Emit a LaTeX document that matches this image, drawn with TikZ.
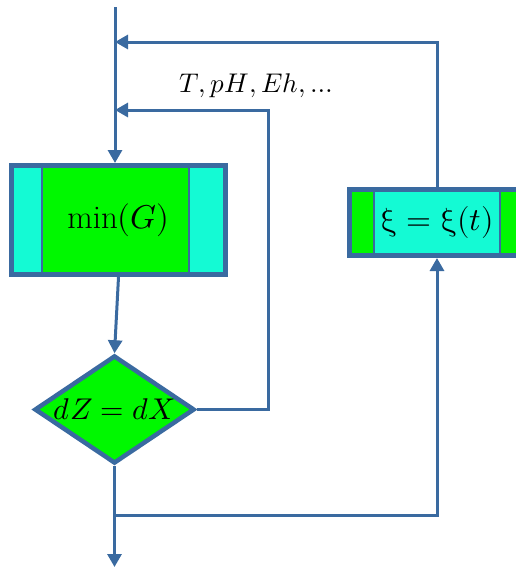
\documentclass[tikz,border=0pt]{standalone}
\usepackage{unicode-math}
\setmathfont{Latin Modern Math}
\usetikzlibrary{arrows.meta,shapes.geometric}
\definecolor{lblue}{RGB}{58,106,160}
\definecolor{bgreen}{RGB}{0,248,0}
\definecolor{aqua}{RGB}{20,250,212}
\tikzset{
  conn/.style={draw=lblue, line width=3pt},
  arr/.style={conn, -{Triangle[length=13pt,width=14pt]}},
  sidebox/.style n args={4}{draw=lblue, line width=5pt, fill=#2, inner sep=0pt,
    path picture={
      \fill[#1] (path picture bounding box.north west) rectangle ([xshift=#3]path picture bounding box.south west);
      \fill[#1] ([xshift=-#4]path picture bounding box.north east) rectangle (path picture bounding box.south east);
      \draw[lblue,line width=2pt] ([xshift=#3]path picture bounding box.north west) -- ([xshift=#3]path picture bounding box.south west);
      \draw[lblue,line width=2pt] ([xshift=-#4]path picture bounding box.north east) -- ([xshift=-#4]path picture bounding box.south east);
    }},
  decision/.style={diamond, aspect=1.55, draw=lblue, line width=4.5pt, fill=bgreen, inner sep=0pt,
    minimum width=160pt, minimum height=108pt},
}
\begin{document}
\begin{tikzpicture}[x=1pt,y=-1pt]
\useasboundingbox (0,0) rectangle (516,568);
\clip (0,0) rectangle (516,568);

% nodes
\node[sidebox={aqua}{bgreen}{30.5pt}{37pt}, minimum width=214pt, minimum height=109pt,
  font=\fontsize{33}{38}\selectfont]
  (minG) at (118.5,220) {$\min(G)$};
\node[decision, font=\fontsize{30}{36}\selectfont] (dec) at (114.5,409.5) {$dZ = dX$};
\node[sidebox={bgreen}{aqua}{24pt}{25pt}, minimum width=175pt, minimum height=66pt,
  font=\fontsize{32}{38}\selectfont]
  (xi) at (437,222.5) {$\symup{\xi} = \symup{\xi}(t)$};
\node[font=\fontsize{27}{31}\selectfont, inner sep=0pt] (lbl) at (256,86) {$T, pH, Eh, \ldots$};

% coordinates
\coordinate (top) at (115,7);
\coordinate (bot) at (114.5,567);
\coordinate (a1) at (115,42);
\coordinate (a2) at (115,110);
\coordinate (c2) at (268,110);
\coordinate (j) at (114.5,515);

% connectors
\draw[arr] (top) -- (top |- minG.north);
\draw[arr] (minG.south) -- (dec.north);
\draw[arr] (dec.south) -- (bot);
\draw[arr] (j) -| (xi.south);
\draw[arr] (xi.north) |- (a1);
\draw[arr] (dec.east) -| (c2) -- (a2);
\end{tikzpicture}
\end{document}
